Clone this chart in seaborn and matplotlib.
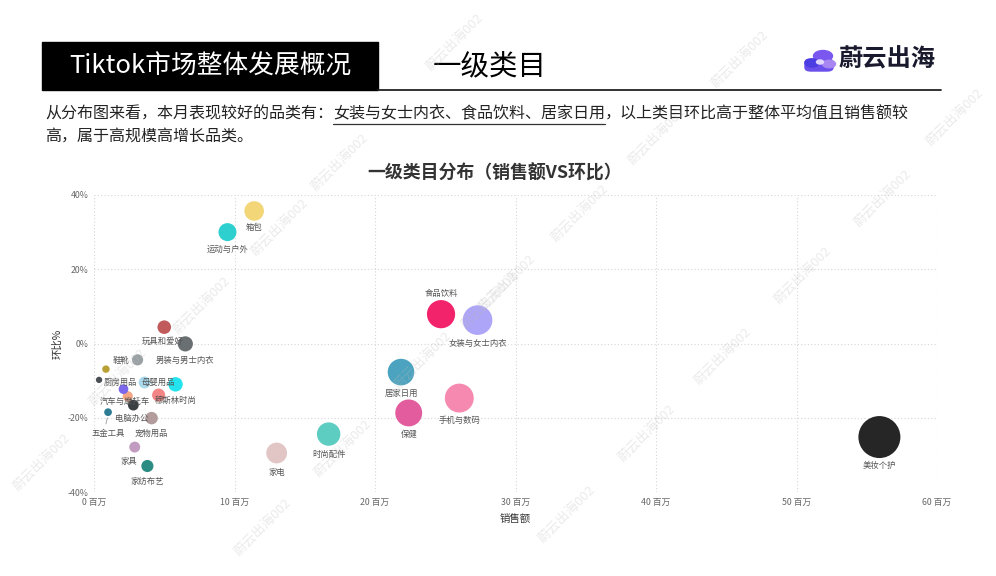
import numpy as np
import pandas as pd
import matplotlib
matplotlib.use("Agg")
import matplotlib.pyplot as plt
import seaborn as sns
from matplotlib.patches import Rectangle, Circle, FancyBboxPatch

# ==========================================
# DATA
# ==========================================
categories = ["美妆个护", "女装与女士内衣", "食品饮料", "手机与数码", "居家日用", "保健",
              "时尚配件", "家电", "箱包", "运动与户外", "男装与男士内衣", "穆斯林时尚",
              "玩具和爱好", "母婴用品", "宠物用品", "家纺布艺", "家具", "鞋靴",
              "图书&杂志&音频", "电脑办公", "收藏品", "汽车与摩托车", "五金工具",
              "珠宝与衍生品", "厨房用品"]
sales = [55.9, 27.3, 24.7, 26.0, 21.85, 22.4,
         16.7, 13.0, 11.4, 9.5, 6.5, 5.8,
         5.0, 4.6, 4.1, 3.8, 2.9, 3.1,
         3.6, 2.8, 2.4, 2.1, 1.0,
         0.85, 0.36]
mom = [-25.2, 6.3, 7.9, -14.7, -7.7, -18.7,
       -24.4, -29.5, 35.7, 30.0, -0.1, -11.0,
       4.4, -13.9, -20.1, -33.0, -27.9, -4.4,
       -10.5, -16.6, -14.2, -12.3, -18.5,
       -6.9, -9.8]
colors = ["#262626", "#ADA5F7", "#F2226B", "#F589AF", "#4BA3BF", "#E25C9E",
          "#5ECDC1", "#E2C6C6", "#F3D677", "#2DCFCF", "#6A7072", "#22E3EE",
          "#C05A5B", "#F38585", "#B39C9C", "#2B8C83", "#C29CC0", "#9AA1A4",
          "#A9D9EA", "#3B4043", "#F4A684", "#7C68EC", "#2F7D94",
          "#B9A033", "#4A4F55"]

# label offsets in pixels (dx, dy) relative to bubble centre; missing = no label
label_pos = {
    "美妆个护": (0, -28), "女装与女士内衣": (0, -23), "食品饮料": (0, 21),
    "手机与数码": (0, -22), "居家日用": (0, -21), "保健": (0, -22),
    "时尚配件": (0, -20), "家电": (0, -19), "箱包": (0, -17), "运动与户外": (0, -17),
    "男装与男士内衣": (0, -17), "穆斯林时尚": (0, -16), "玩具和爱好": (-2, -14),
    "母婴用品": (0, 13), "宠物用品": (0, -15), "家纺布艺": (0, -15), "家具": (-6, -14),
    "鞋靴": (-17, -1), "电脑办公": (-2, -13), "汽车与摩托车": (1, -12),
    "五金工具": (0, -21), "厨房用品": (21, -3),
}

df = pd.DataFrame({"category": categories, "sales": sales, "mom": mom})
palette = dict(zip(categories, colors))

# ==========================================
# FIGURE
# ==========================================
sns.set_theme(style="white")
plt.rcParams["font.family"] = ["Noto Sans CJK SC", "DejaVu Sans"]

W, H = 996, 576
fig = plt.figure(figsize=(W / 100, H / 100), dpi=100)
fig.patch.set_facecolor("white")

def fx(px):
    return px / W

def fy(py):
    return 1 - py / H

# header
fig.patches.append(Rectangle((fx(42), fy(90)), fx(336), 48 / H, transform=fig.transFigure,
                             color="black", zorder=1))
fig.text(fx(210), fy(67), "Tiktok市场整体发展概况", color="white", fontsize=18.5,
         ha="center", va="center")
fig.text(fx(433), fy(66), "一级类目", color="black", fontsize=20.5, ha="left", va="center")
fig.add_artist(plt.Line2D([fx(378), fx(941)], [fy(89.5), fy(89.5)], color="#222222",
                          lw=1.3, transform=fig.transFigure))

# logo (simple cloud)
fig.patches.append(FancyBboxPatch((fx(805), fy(71)), fx(28), 12 / H,
                                  boxstyle="round,pad=0,rounding_size=0.006",
                                  transform=fig.transFigure, color="#6B4FEA", zorder=2))
fig.patches.append(Circle((fx(812), fy(63)), 7 / W, transform=fig.transFigure,
                          color="#4B3DE2", zorder=3))
fig.patches.append(Circle((fx(823), fy(56)), 9.5 / W, transform=fig.transFigure,
                          color="#7A58F0", zorder=2))
fig.patches.append(Circle((fx(829), fy(64)), 6.5 / W, transform=fig.transFigure,
                          color="#A886F2", zorder=3))
fig.patches.append(Circle((fx(820), fy(62)), 3.5 / W, transform=fig.transFigure,
                          color="#E2D8FF", zorder=4))
fig.text(fx(839), fy(59), "蔚云出海", color="#1a1a2e", fontsize=17.5, fontweight="bold",
         ha="left", va="center")

# description with underlined part
desc_fs = 11.55
t1 = fig.text(fx(45), fy(114), "从分布图来看，本月表现较好的品类有：", fontsize=desc_fs,
              color="#222222", ha="left", va="center")
fig.canvas.draw()
r = fig.canvas.get_renderer()
bb1 = t1.get_window_extent(r)
t2 = fig.text(bb1.x1 / W, fy(114), "女装与女士内衣、食品饮料、居家日用", fontsize=desc_fs,
              color="#222222", ha="left", va="center")
bb2 = t2.get_window_extent(r)
fig.add_artist(plt.Line2D([bb2.x0 / W, bb2.x1 / W], [fy(124), fy(124)], color="#333333",
                          lw=0.9, transform=fig.transFigure))
fig.text(bb2.x1 / W, fy(114), "，以上类目环比高于整体平均值且销售额较", fontsize=desc_fs,
         color="#222222", ha="left", va="center")
fig.text(fx(45), fy(136), "高，属于高规模高增长品类。", fontsize=desc_fs,
         color="#222222", ha="left", va="center")

# chart title
fig.text(fx(495), fy(173), "一级类目分布（销售额VS环比）", fontsize=12.9, fontweight="bold",
         color="#333333", ha="center", va="center")

# ==========================================
# SCATTER
# ==========================================
ax = fig.add_axes([fx(94), fy(492), fx(937) - fx(94), (492 - 195) / H])
ax.set_facecolor("none")
sns.scatterplot(data=df, x="sales", y="mom", hue="category", palette=palette,
                size="sales", sizes=(15, 980), size_norm=(0, 60), linewidth=0,
                alpha=1, legend=False, ax=ax, zorder=3, clip_on=False)

for name, x, y in zip(categories, sales, mom):
    if name not in label_pos:
        continue
    dx, dy = label_pos[name]
    ax.annotate(name, (x, y), xytext=(dx, dy), textcoords="offset pixels",
                ha="center", va="center", fontsize=6, color="#555555", zorder=4)

# leader line for 五金工具
ax.annotate("", xy=(1.0, -19.3), xytext=(0.8, -22.4),
            arrowprops=dict(arrowstyle="-", color="#999999", lw=0.6))

ax.set_xlim(0, 60)
ax.set_ylim(-40, 40)
xt = [0, 10, 20, 30, 40, 50, 60]
yt = [-40, -20, 0, 20, 40]
ax.set_xticks(xt)
ax.set_xticklabels([f"{v} 百万" for v in xt])
ax.set_yticks(yt)
ax.set_yticklabels([f"{v}%" for v in yt])
ax.tick_params(axis="both", length=0, labelsize=6.3, colors="#666666", pad=4)
ax.grid(True, linestyle=(0, (1, 2)), color="#d6d6d6", lw=0.8)
for s in ax.spines.values():
    s.set_visible(False)
ax.set_xlabel("销售额", fontsize=7.5, color="#333333", labelpad=5)
ax.set_ylabel("环比%", fontsize=7.5, color="#333333", labelpad=4)

# watermark
wm_spots = [(42, 462), (118, 377), (202, 305), (280, 227), (340, 162),
            (263, 527), (343, 448), (423, 360), (490, 300), (455, 42),
            (507, 283), (580, 213), (657, 136), (740, 59),
            (567, 514), (647, 433), (723, 356), (803, 275), (883, 198), (955, 117)]
for px, py in wm_spots:
    fig.text(fx(px), fy(py), "蔚云出海002", rotation=45, fontsize=9.5, color="#bbbbbb",
             alpha=0.3, ha="center", va="center", zorder=10)

fig.savefig("out.png", dpi=100)
